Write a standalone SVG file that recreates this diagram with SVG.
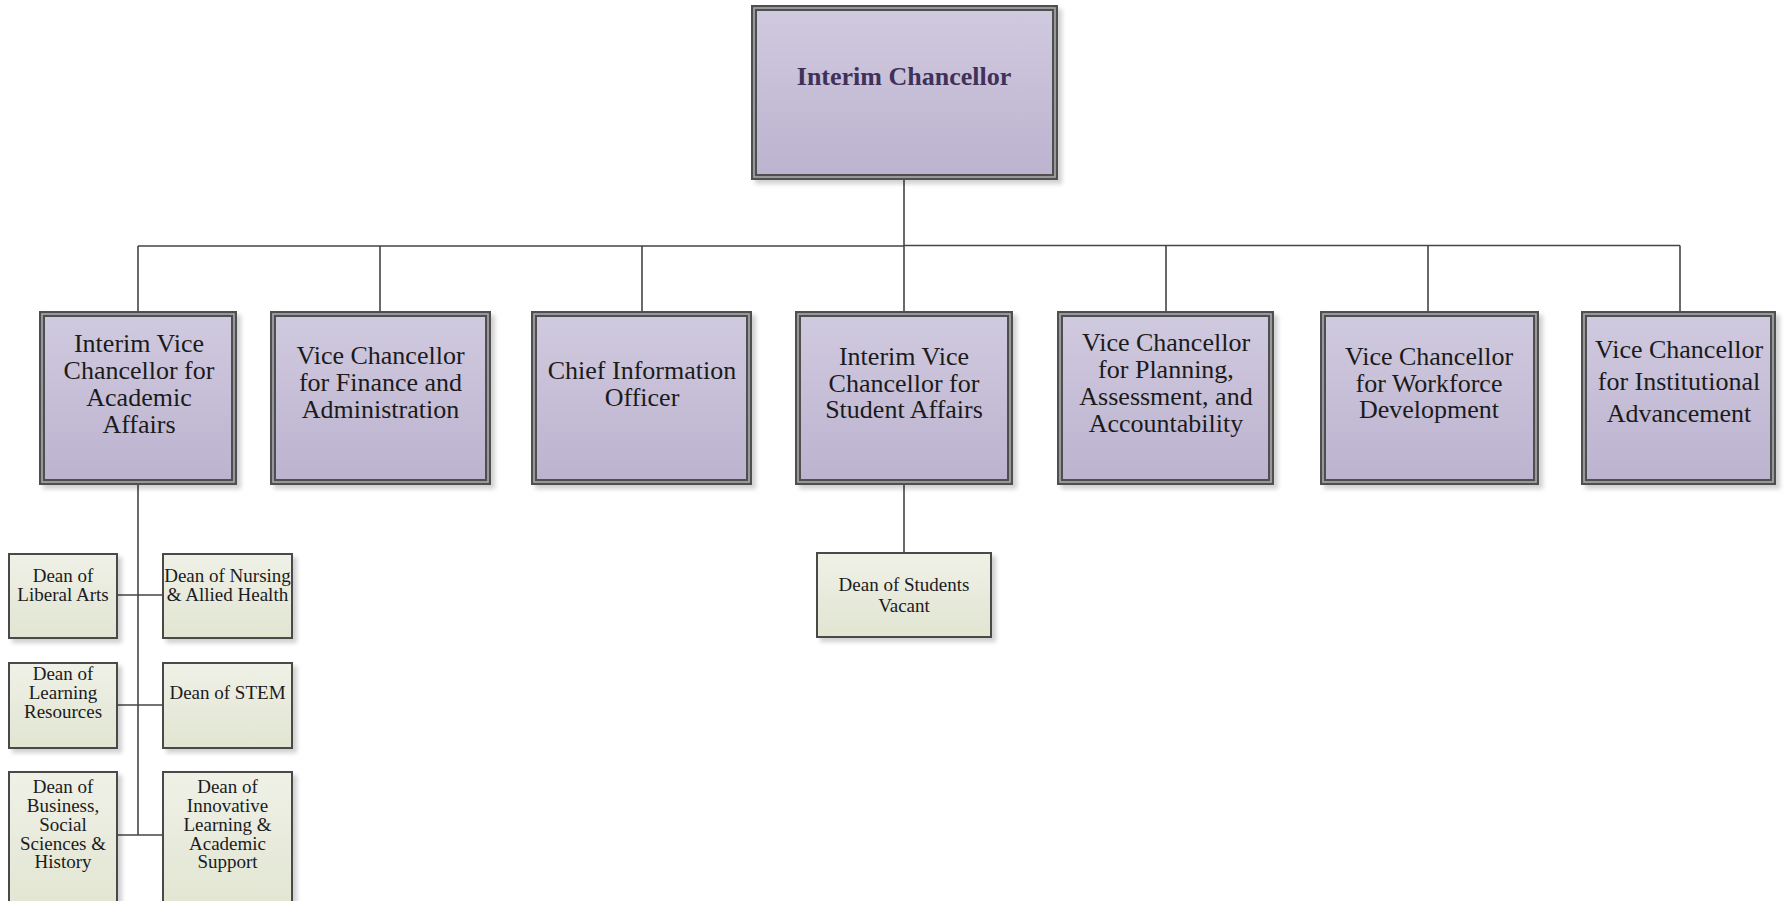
<svg xmlns="http://www.w3.org/2000/svg" width="1784" height="901" viewBox="0 0 1784 901">
<defs>
  <linearGradient id="gVP" x1="0" y1="0" x2="0" y2="1">
    <stop offset="0" stop-color="#d0cadf"/>
    <stop offset="1" stop-color="#bcb3cf"/>
  </linearGradient>
  <linearGradient id="gDean" x1="0" y1="0" x2="0" y2="1">
    <stop offset="0" stop-color="#eff1e7"/>
    <stop offset="1" stop-color="#e1e5d1"/>
  </linearGradient>
  <filter id="sh" x="-10%" y="-10%" width="130%" height="130%">
    <feDropShadow dx="4" dy="4" stdDeviation="2" flood-color="#000" flood-opacity="0.18"/>
  </filter>
</defs>
<style>
  .vp { fill: url(#gVP); stroke: #505050; stroke-width: 6; filter: url(#sh); }
  .vpi { fill: none; stroke: #a9a9b0; stroke-width: 1.6; }
  .dean { fill: url(#gDean); stroke: #4a4a4a; stroke-width: 2; filter: url(#sh); }
  .t26 { font-family: "Liberation Serif", "Times New Roman", serif; font-size: 26px; fill: #1b1b1b; text-anchor: middle; }
  .tc { font-family: "Liberation Serif", "Times New Roman", serif; font-size: 26px; font-weight: bold; fill: #3f3158; text-anchor: middle; }
  .t19 { font-family: "Liberation Serif", "Times New Roman", serif; font-size: 19px; fill: #1b1b22; text-anchor: middle; }
  .conn { fill: none; stroke: #454545; stroke-width: 1.6; }
</style>
<rect width="1784" height="901" fill="#ffffff"/>

<g id="connectors">
  <path class="conn" d="M904 180 V246"/>
  <path class="conn" d="M138 246 H904"/>
  <path class="conn" d="M904 245.5 H1680" />
  <path class="conn" d="M138 246 V311 M380 246 V311 M642 246 V311 M904 246 V311 M1166 245.5 V311 M1428 245.5 V311 M1680 245.5 V311"/>
  <path class="conn" d="M138 485 V835"/>
  <path class="conn" d="M118 595 H162 M118 705 H162 M118 835 H162"/>
  <path class="conn" d="M904 485 V552"/>
</g>

<g id="chancellor">
  <rect class="vp" x="754" y="8" width="301" height="169"/>
  <rect class="vpi" x="754" y="8" width="301" height="169"/>
  <text class="tc" x="904" y="85">Interim Chancellor</text>
</g>

<g id="vc-academic">
  <rect class="vp" x="42" y="314" width="192" height="168"/>
  <rect class="vpi" x="42" y="314" width="192" height="168"/>
  <text class="t26" x="139" y="352">Interim Vice</text>
  <text class="t26" x="139" y="379">Chancellor for</text>
  <text class="t26" x="139" y="406">Academic</text>
  <text class="t26" x="139" y="433">Affairs</text>
</g>

<g id="vc-finance">
  <rect class="vp" x="273" y="314" width="215" height="168"/>
  <rect class="vpi" x="273" y="314" width="215" height="168"/>
  <text class="t26" x="380.5" y="364">Vice Chancellor</text>
  <text class="t26" x="380.5" y="391">for Finance and</text>
  <text class="t26" x="380.5" y="418">Administration</text>
</g>

<g id="cio">
  <rect class="vp" x="534" y="314" width="215" height="168"/>
  <rect class="vpi" x="534" y="314" width="215" height="168"/>
  <text class="t26" x="642" y="379">Chief Information</text>
  <text class="t26" x="642" y="406">Officer</text>
</g>

<g id="vc-student">
  <rect class="vp" x="798" y="314" width="212" height="168"/>
  <rect class="vpi" x="798" y="314" width="212" height="168"/>
  <text class="t26" x="904" y="365">Interim Vice</text>
  <text class="t26" x="904" y="392">Chancellor for</text>
  <text class="t26" x="904" y="418">Student Affairs</text>
</g>

<g id="vc-planning">
  <rect class="vp" x="1060" y="314" width="211" height="168"/>
  <rect class="vpi" x="1060" y="314" width="211" height="168"/>
  <text class="t26" x="1166" y="351">Vice Chancellor</text>
  <text class="t26" x="1166" y="378">for Planning,</text>
  <text class="t26" x="1166" y="405">Assessment, and</text>
  <text class="t26" x="1166" y="432">Accountability</text>
</g>

<g id="vc-workforce">
  <rect class="vp" x="1323" y="314" width="213" height="168"/>
  <rect class="vpi" x="1323" y="314" width="213" height="168"/>
  <text class="t26" x="1429" y="365">Vice Chancellor</text>
  <text class="t26" x="1429" y="391.5">for Workforce</text>
  <text class="t26" x="1429" y="418">Development</text>
</g>

<g id="vc-advancement">
  <rect class="vp" x="1584" y="314" width="189" height="168"/>
  <rect class="vpi" x="1584" y="314" width="189" height="168"/>
  <text class="t26" x="1679" y="358">Vice Chancellor</text>
  <text class="t26" x="1679" y="390">for Institutional</text>
  <text class="t26" x="1679" y="422">Advancement</text>
</g>

<g id="dean-liberal-arts">
  <rect class="dean" x="9" y="554" width="108" height="84"/>
  <text class="t19" x="63" y="582">Dean of</text>
  <text class="t19" x="63" y="601">Liberal Arts</text>
</g>

<g id="dean-nursing">
  <rect class="dean" x="163" y="554" width="129" height="84"/>
  <text class="t19" x="227.5" y="582">Dean of Nursing</text>
  <text class="t19" x="227.5" y="601">&amp; Allied Health</text>
</g>

<g id="dean-learning-resources">
  <rect class="dean" x="9" y="663" width="108" height="85"/>
  <text class="t19" x="63" y="680">Dean of</text>
  <text class="t19" x="63" y="699">Learning</text>
  <text class="t19" x="63" y="718">Resources</text>
</g>

<g id="dean-stem">
  <rect class="dean" x="163" y="663" width="129" height="85"/>
  <text class="t19" x="227.5" y="699">Dean of STEM</text>
</g>

<g id="dean-business">
  <rect class="dean" x="9" y="772" width="108" height="140"/>
  <text class="t19" x="63" y="793">Dean of</text>
  <text class="t19" x="63" y="812">Business,</text>
  <text class="t19" x="63" y="831">Social</text>
  <text class="t19" x="63" y="850">Sciences &amp;</text>
  <text class="t19" x="63" y="868">History</text>
</g>

<g id="dean-innovative">
  <rect class="dean" x="163" y="772" width="129" height="140"/>
  <text class="t19" x="227.5" y="793">Dean of</text>
  <text class="t19" x="227.5" y="812">Innovative</text>
  <text class="t19" x="227.5" y="831">Learning &amp;</text>
  <text class="t19" x="227.5" y="850">Academic</text>
  <text class="t19" x="227.5" y="868">Support</text>
</g>

<g id="dean-students">
  <rect class="dean" x="817" y="553" width="174" height="84"/>
  <text class="t19" x="904" y="591">Dean of Students</text>
  <text class="t19" x="904" y="612">Vacant</text>
</g>
</svg>
